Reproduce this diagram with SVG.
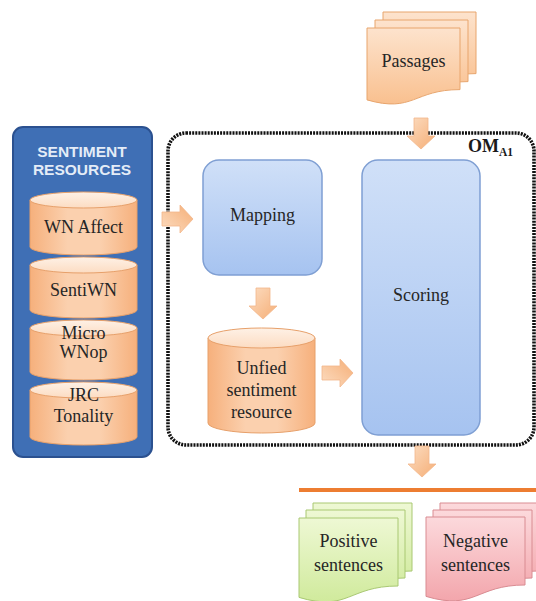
<svg xmlns="http://www.w3.org/2000/svg" xmlns:xlink="http://www.w3.org/1999/xlink" width="536" height="601" viewBox="0 0 536 601" font-family="Liberation Serif, serif">
  <defs>
    <linearGradient id="cylBody" x1="0" y1="0" x2="1" y2="0">
      <stop offset="0" stop-color="#F6B07C"/>
      <stop offset="0.35" stop-color="#FBD0AE"/>
      <stop offset="0.65" stop-color="#FBD0AE"/>
      <stop offset="1" stop-color="#F6B07C"/>
    </linearGradient>
    <linearGradient id="cylTop" x1="0" y1="0" x2="0" y2="1">
      <stop offset="0" stop-color="#FEF1E6"/>
      <stop offset="1" stop-color="#FCDCC2"/>
    </linearGradient>
    <linearGradient id="procFill" x1="0" y1="0" x2="0" y2="1">
      <stop offset="0" stop-color="#D0E0F8"/>
      <stop offset="1" stop-color="#A6C3F0"/>
    </linearGradient>
    <linearGradient id="arrowFill" x1="0" y1="0" x2="1" y2="1">
      <stop offset="0" stop-color="#FCDDC2"/>
      <stop offset="1" stop-color="#F5AE76"/>
    </linearGradient>
    <linearGradient id="docOrange" x1="0" y1="0" x2="0" y2="1">
      <stop offset="0" stop-color="#FDE3CD"/>
      <stop offset="1" stop-color="#F9C08F"/>
    </linearGradient>
    <linearGradient id="docGreen" x1="0" y1="0" x2="0" y2="1">
      <stop offset="0" stop-color="#EEF8D4"/>
      <stop offset="1" stop-color="#D0EA9C"/>
    </linearGradient>
    <linearGradient id="docRed" x1="0" y1="0" x2="0" y2="1">
      <stop offset="0" stop-color="#FCD9DC"/>
      <stop offset="1" stop-color="#F3A6AC"/>
    </linearGradient>
    <!-- block arrow pointing down, origin at the middle of its tail -->
    <path id="blockArrow" d="M-7,0 H7 V18 H14 L0,31 L-14,18 H-7 Z"/>
  </defs>
  <style>
    .lbl { font-family: Liberation Serif, serif; font-size: 18px; fill: #262626; text-anchor: middle; }
    .title { font-family: Liberation Sans, Arial, sans-serif; font-size: 15.5px; font-weight: bold; fill: #E4ECF7; text-anchor: middle; }
    .cyl-body { fill: url(#cylBody); stroke: #E7A06A; stroke-width: 1; }
    .cyl-top { fill: url(#cylTop); stroke: #E7A06A; stroke-width: 1; }
    .proc { fill: url(#procFill); stroke: #7F9FD3; stroke-width: 1.5; }
    .arrow { fill: url(#arrowFill); stroke: #F2B68A; stroke-width: 0.8; }
    .doc-o { fill: url(#docOrange); stroke: #E8A56D; stroke-width: 1; }
    .doc-g { fill: url(#docGreen); stroke: #A9C873; stroke-width: 1; }
    .doc-r { fill: url(#docRed); stroke: #D98C92; stroke-width: 1; }
  </style>

  <rect width="536" height="601" fill="#FFFFFF"/>

  <!-- OM_A1 module boundary -->
  <g id="om-a1">
    <rect x="168" y="133" width="366" height="312" rx="18" fill="none" stroke="#111111" stroke-width="3.6" stroke-dasharray="2 1.1"/>
    <text x="468" y="152" font-family="Liberation Serif, serif" font-weight="bold" font-size="18" fill="#1A1A1A">OM<tspan font-size="11.5" dy="4">A1</tspan></text>
  </g>

  <!-- sentiment resources container -->
  <g id="sentiment-resources">
    <rect x="13" y="127" width="139" height="330" rx="10" fill="#3F6FB5" stroke="#2B5190" stroke-width="2"/>
    <text class="title" x="82" y="157" font-family="Liberation Sans, sans-serif">SENTIMENT</text>
    <text class="title" x="82" y="175" font-family="Liberation Sans, sans-serif">RESOURCES</text>
  </g>

  <g id="wn-affect">
    <path class="cyl-body" d="M30,200 V247 A53.5,8 0 0 0 137,247 V200 Z"/>
    <ellipse class="cyl-top" cx="83.5" cy="200" rx="53.5" ry="8"/>
    <text class="lbl" x="83.5" y="233">WN Affect</text>
  </g>
  <g id="sentiwn">
    <path class="cyl-body" d="M30,265 V310 A53.5,8 0 0 0 137,310 V265 Z"/>
    <ellipse class="cyl-top" cx="83.5" cy="265" rx="53.5" ry="8"/>
    <text class="lbl" x="83.5" y="296">SentiWN</text>
  </g>
  <g id="micro-wnop">
    <path class="cyl-body" d="M30,328 V372 A53.5,8 0 0 0 137,372 V328 Z"/>
    <ellipse class="cyl-top" cx="83.5" cy="328" rx="53.5" ry="8"/>
    <text class="lbl" x="83.5" y="339">Micro</text>
    <text class="lbl" x="83.5" y="358">WNop</text>
  </g>
  <g id="jrc-tonality">
    <path class="cyl-body" d="M30,390 V437 A53.5,8 0 0 0 137,437 V390 Z"/>
    <ellipse class="cyl-top" cx="83.5" cy="390" rx="53.5" ry="8"/>
    <text class="lbl" x="83.5" y="401">JRC</text>
    <text class="lbl" x="83.5" y="422">Tonality</text>
  </g>

  <!-- processing steps -->
  <g id="mapping">
    <rect class="proc" x="203" y="160" width="119" height="115" rx="16"/>
    <text class="lbl" x="262.5" y="221">Mapping</text>
  </g>
  <g id="scoring">
    <rect class="proc" x="362" y="160" width="118" height="275" rx="16"/>
    <text class="lbl" x="421" y="301">Scoring</text>
  </g>
  <g id="unified-resource">
    <path class="cyl-body" d="M208,338 V423 A53.5,10 0 0 0 315,423 V338 Z"/>
    <ellipse class="cyl-top" cx="261.5" cy="338" rx="53.5" ry="10"/>
    <text class="lbl" x="261.5" y="374">Unfied</text>
    <text class="lbl" x="261.5" y="396">sentiment</text>
    <text class="lbl" x="261.5" y="418">resource</text>
  </g>

  <!-- input documents -->
  <g id="passages">
    <path class="doc-o" d="M383,12 H476 V73.6 C429.5,73.6 429.5,97.2 383,83.9 Z"/>
    <path class="doc-o" d="M375,20 H468 V81.6 C421.5,81.6 421.5,105.2 375,91.9 Z"/>
    <path class="doc-o" d="M367,28 H460 V89.6 C413.5,89.6 413.5,113.2 367,99.9 Z"/>
    <text class="lbl" x="413.5" y="67">Passages</text>
  </g>

  <!-- output documents -->
  <g id="positive-sentences">
    <path class="doc-g" d="M313,503 H412 V571 C362.5,571 362.5,597 313,582.4 Z"/>
    <path class="doc-g" d="M306,510 H405 V578 C355.5,578 355.5,604 306,589.4 Z"/>
    <path class="doc-g" d="M299,518 H398 V586 C348.5,586 348.5,612 299,597.4 Z"/>
    <text class="lbl" x="348.5" y="547">Positive</text>
    <text class="lbl" x="348.5" y="571">sentences</text>
  </g>
  <g id="negative-sentences">
    <path class="doc-r" d="M440,503 H539 V571 C489.5,571 489.5,597 440,582.4 Z"/>
    <path class="doc-r" d="M433,510 H532 V578 C482.5,578 482.5,604 433,589.4 Z"/>
    <path class="doc-r" d="M426,517 H525 V585 C475.5,585 475.5,611 426,596.4 Z"/>
    <text class="lbl" x="475.5" y="547">Negative</text>
    <text class="lbl" x="475.5" y="571">sentences</text>
  </g>

  <!-- connectors -->
  <g id="connectors">
    <use class="arrow" xlink:href="#blockArrow" transform="translate(162,219) rotate(-90)"/>
    <use class="arrow" xlink:href="#blockArrow" transform="translate(263,288)"/>
    <use class="arrow" xlink:href="#blockArrow" transform="translate(322,373) rotate(-90)"/>
    <use class="arrow" xlink:href="#blockArrow" transform="translate(421,118)"/>
    <use class="arrow" xlink:href="#blockArrow" transform="translate(422,446)"/>
    <line x1="299" y1="490" x2="536" y2="490" stroke="#ED7D31" stroke-width="4"/>
  </g>
</svg>
